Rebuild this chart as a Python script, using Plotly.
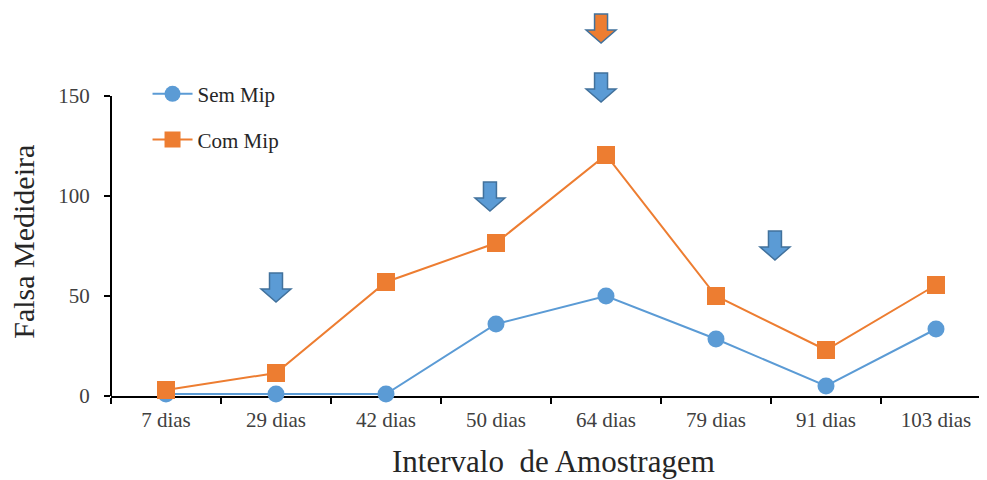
import plotly.graph_objects as go

categories = ["7 dias", "29 dias", "42 dias", "50 dias", "64 dias", "79 dias", "91 dias", "103 dias"]
sem_mip = [1, 1, 1, 36, 50, 28.5, 5, 33.5]
com_mip = [3, 11.5, 57, 76.5, 120.5, 50, 23, 55.5]
y_ticks = [0, 50, 100, 150]

# block arrows: category position (serial), tip value, fill colour
arrow_pos = [1.0, 2.945, 3.955, 3.955, 5.536]
arrow_tip = [47, 92.5, 147, 176.5, 68]
arrow_fill = ["#5B9BD5", "#5B9BD5", "#5B9BD5", "#ED7D31", "#5B9BD5"]

BLUE = "#5B9BD5"
ORANGE = "#ED7D31"
FONT = "Liberation Serif"

fig = go.Figure()
fig.add_trace(go.Scatter(
    x=categories, y=sem_mip, name="Sem Mip", mode="lines+markers",
    line=dict(color=BLUE, width=2), marker=dict(symbol="circle", size=17, color=BLUE),
    cliponaxis=False, legend="legend"))
fig.add_trace(go.Scatter(
    x=categories, y=com_mip, name="Com Mip", mode="lines+markers",
    line=dict(color=ORANGE, width=2), marker=dict(symbol="square", size=18, color=ORANGE),
    cliponaxis=False, legend="legend2"))

HW, SW, H, HH = 0.136, 0.059, 14.5, 6.5
shapes = []
for xc, yt, col in zip(arrow_pos, arrow_tip, arrow_fill):
    pts = [(xc - SW, yt + H), (xc + SW, yt + H), (xc + SW, yt + HH), (xc + HW, yt + HH),
           (xc, yt), (xc - HW, yt + HH), (xc - SW, yt + HH)]
    path = "M " + " L ".join(f"{px},{py}" for px, py in pts) + " Z"
    shapes.append(dict(type="path", xref="x", yref="y", path=path, fillcolor=col,
                       line=dict(color="#41719C", width=1.5), layer="above"))

# y axis line only up to 150
shapes.append(dict(type="line", xref="paper", yref="y", x0=0, x1=0, y0=0, y1=y_ticks[-1],
                   line=dict(color="black", width=2), layer="below"))

fig.update_layout(
    width=979, height=472,
    margin=dict(l=103, r=0, t=0, b=84),
    paper_bgcolor="white", plot_bgcolor="white",
    font=dict(family=FONT, color="#404040", size=21),
    shapes=shapes,
    showlegend=True,
    legend=dict(x=0.0417, y=0.778, xanchor="left", yanchor="middle", bgcolor="rgba(0,0,0,0)",
                font=dict(family=FONT, size=21, color="#262626"), itemwidth=40),
    legend2=dict(x=0.0417, y=0.66, xanchor="left", yanchor="middle", bgcolor="rgba(0,0,0,0)",
                 font=dict(family=FONT, size=21, color="#262626"), itemwidth=40),
    annotations=[
        dict(text="Falsa Medideira", xref="paper", yref="paper", x=-0.0995, y=0.397,
             xanchor="center", yanchor="middle", textangle=-90, showarrow=False,
             font=dict(family=FONT, size=30, color="#262626")),
        dict(text="Intervalo\u00a0 de Amostragem", xref="paper", yref="paper", x=0.5046, y=-0.170,
             xanchor="center", yanchor="middle", showarrow=False,
             font=dict(family=FONT, size=31, color="#262626")),
    ],
)
fig.update_xaxes(type="category", range=[-0.5, 7.4636], tickson="boundaries",
                 showline=True, linecolor="black", linewidth=2, ticks="outside",
                 ticklen=6, tickwidth=2, tickcolor="black", showgrid=False, zeroline=False,
                 ticklabelstandoff=4,
                 layer="below traces", tickfont=dict(family=FONT, size=21, color="#404040"))
fig.update_yaxes(range=[0, 194], tickvals=y_ticks, showline=False, ticks="outside",
                 ticklen=6, tickwidth=2, tickcolor="black", showgrid=False, zeroline=False,
                 ticklabelstandoff=10, tickfont=dict(family=FONT, size=21, color="#404040"))

fig.write_html("out.html")
